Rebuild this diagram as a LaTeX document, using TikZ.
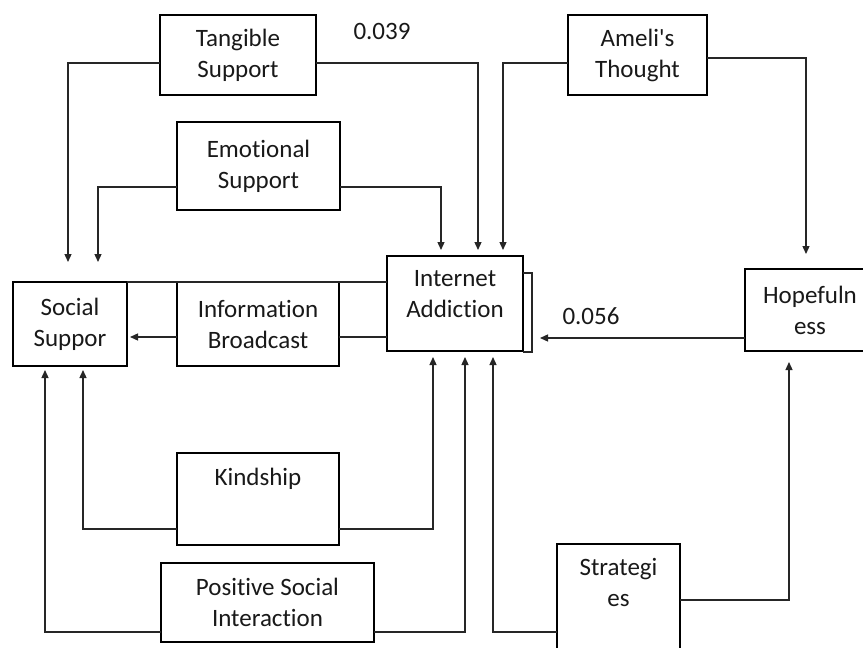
\documentclass[tikz,border=0pt]{standalone}
\usepackage{fontspec}
\setmainfont[Ligatures={NoCommon}]{Carlito}
\usetikzlibrary{arrows.meta}
\begin{document}
\begin{tikzpicture}[x=1pt,y=-1pt,
  box/.style={draw=black, line width=1.8pt, inner sep=0pt, outer sep=0pt, align=center,
     font=\fontsize{25}{31}\selectfont, text=black!90},
  conn/.style={draw=black!85, line width=1.3pt},
  arr/.style={conn, -{Triangle[length=8pt,width=7pt]}},
  lab/.style={font=\fontsize{25}{31}\selectfont, text=black!90, inner sep=0pt}]
\useasboundingbox (0,0) rectangle (863,648);
\clip (0,0) rectangle (863,648);
\fill[white] (0,0) rectangle (863,648);

\node[box, minimum width=156pt, minimum height=80pt] (ts) at (238,55) {Tangible\\Support};
\node[box, minimum width=163pt, minimum height=88pt] (es) at (258.5,166) {Emotional\\Support};
\node[box, minimum width=139pt, minimum height=80pt] (at) at (637.5,55) {Ameli\textquotesingle s\\Thought};
\node[box, minimum width=136pt, minimum height=95pt,
  label={[lab, anchor=north, yshift=-14pt, align=center]north:Internet\\Addiction}] (ia) at (455,303.5) {};
\node[box, minimum width=130pt, minimum height=82pt] (hp) at (810,310) {Hopefuln\\ess};
\node[box, minimum width=114pt, minimum height=84pt] (ss) at (70,324) {Social\\Suppor};
\node[box, minimum width=162pt, minimum height=84pt] (ib) at (258,324) {Information\\Broadcast};
\node[box, minimum width=162pt, minimum height=92pt,
  label={[lab, anchor=north, yshift=-15pt]north:Kindship}] (kd) at (258,499) {};
\node[box, minimum width=213pt, minimum height=79pt] (psi) at (267.5,602.5) {Positive Social\\Interaction};
\node[box, minimum width=123pt, minimum height=126pt,
  label={[lab, anchor=north, yshift=-14pt, align=center]north:Strategi\\es}] (st) at (618.5,607) {};

\node[lab] (l1) at (382,31) {0.039};
\node[lab] (l2) at (591,316) {0.056};

% shadow of Internet Addiction
\draw[conn] ([yshift=-17pt]ia.north east) -| ([xshift=9pt,yshift=-1pt]ia.south east) -- ([yshift=-1pt]ia.south east);

% top connectors
\draw[arr] ([yshift=-8pt]ts.west) -| ([xshift=-2pt,yshift=20pt]ss.north);
\draw[arr] ([yshift=-8pt]ts.east) -| ([xshift=23pt,yshift=6pt]ia.north);
\draw[arr] ([yshift=-21pt]es.west) -| ([xshift=28pt,yshift=20pt]ss.north);
\draw[arr] ([yshift=-21pt]es.east) -| ([xshift=-14pt,yshift=6pt]ia.north);
\draw[arr] ([yshift=-8pt]at.west) -| ([xshift=48pt,yshift=6pt]ia.north);
\draw[arr] ([yshift=-3pt]at.east) -| ([xshift=-4pt,yshift=15pt]hp.north);
\draw[arr] ([yshift=-28pt]hp.west) -- ([xshift=17pt,yshift=-34.5pt]ia.east);

% middle row
\draw[conn] ([yshift=21.5pt]ia.west) -- (ss.north east);
\draw[conn] ([yshift=-33.5pt]ia.west) -- ([yshift=-13pt]ib.east);
\draw[arr] ([yshift=-13pt]ib.west) -- ([xshift=3pt,yshift=-13pt]ss.east);

% bottom connectors
\draw[arr] ([yshift=-30pt]kd.west) -| ([xshift=13pt,yshift=-4pt]ss.south);
\draw[arr] ([yshift=-30pt]kd.east) -| ([xshift=-22pt,yshift=-6pt]ia.south);
\draw[arr] ([yshift=-29.5pt]psi.west) -| ([xshift=-25pt,yshift=-4pt]ss.south);
\draw[arr] ([yshift=-29.5pt]psi.east) -| ([xshift=10pt,yshift=-6pt]ia.south);
\draw[arr] ([yshift=-25pt]st.west) -| ([xshift=38pt,yshift=-6pt]ia.south);
\draw[arr] ([yshift=7pt]st.east) -| ([xshift=-21pt,yshift=-11pt]hp.south);
\end{tikzpicture}
\end{document}
